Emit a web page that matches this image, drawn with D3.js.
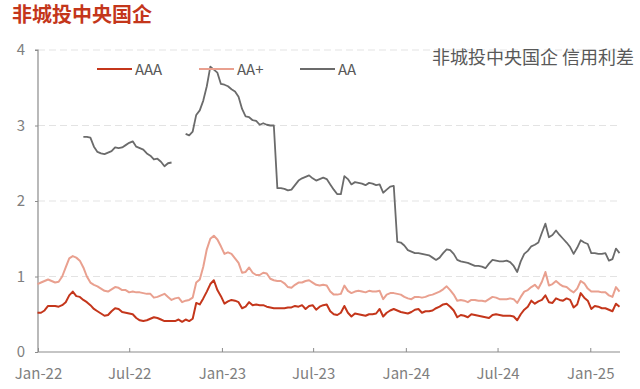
<!DOCTYPE html>
<html>
<head>
<meta charset="utf-8">
<script src="https://cdn.jsdelivr.net/npm/d3@7"></script>
<style>
  body { margin: 0; background: #fff; }
  svg { display: block; font-family: "Noto Sans CJK SC", "Noto Sans", sans-serif; }
</style>
</head>
<body>
<svg id="chart" width="640" height="389"></svg>
<script>
// weekly observations (Fridays), 2021-12-31 .. 2025-02-28
const dates = d3.timeFriday.range(new Date(2021, 11, 31), new Date(2025, 2, 1));

const aaa = [
  0.52, 0.52, 0.55, 0.61, 0.61, 0.61, 0.60, 0.62, 0.66, 0.75, 0.80, 0.74, 0.73, 0.69, 0.66, 0.62, 0.57, 0.54, 0.51, 0.48,
  0.49, 0.54, 0.58, 0.57, 0.53, 0.52, 0.51, 0.50, 0.45, 0.42, 0.41, 0.42, 0.44, 0.46, 0.45, 0.43, 0.41, 0.41, 0.41, 0.41,
  0.43, 0.40, 0.43, 0.41, 0.44, 0.65, 0.63, 0.71, 0.80, 0.90, 0.95, 0.82, 0.74, 0.64, 0.67, 0.69, 0.68, 0.66, 0.58, 0.60,
  0.66, 0.62, 0.63, 0.62, 0.62, 0.60, 0.59, 0.58, 0.58, 0.58, 0.58, 0.59, 0.59, 0.61, 0.60, 0.62, 0.57, 0.61, 0.62, 0.56,
  0.60, 0.62, 0.63, 0.54, 0.50, 0.49, 0.52, 0.61, 0.52, 0.47, 0.51, 0.50, 0.49, 0.48, 0.50, 0.50, 0.51, 0.57, 0.47, 0.52,
  0.55, 0.57, 0.55, 0.53, 0.52, 0.51, 0.53, 0.56, 0.57, 0.52, 0.54, 0.54, 0.55, 0.58, 0.60, 0.63, 0.64, 0.60, 0.55, 0.46,
  0.49, 0.48, 0.46, 0.50, 0.49, 0.48, 0.47, 0.46, 0.45, 0.49, 0.50, 0.49, 0.48, 0.48, 0.48, 0.47, 0.42, 0.50, 0.56, 0.60,
  0.68, 0.64, 0.67, 0.69, 0.75, 0.66, 0.65, 0.71, 0.69, 0.68, 0.71, 0.69, 0.59, 0.63, 0.78, 0.72, 0.68, 0.57, 0.61, 0.60,
  0.58, 0.58, 0.56, 0.54, 0.64, 0.60
];

const aaPlus = [
  0.90, 0.92, 0.94, 0.96, 0.94, 0.92, 0.93, 1.00, 1.12, 1.24, 1.27, 1.25, 1.21, 1.12, 1.00, 0.92, 0.89, 0.87, 0.84, 0.81,
  0.80, 0.83, 0.86, 0.85, 0.82, 0.82, 0.79, 0.80, 0.79, 0.79, 0.78, 0.77, 0.77, 0.72, 0.73, 0.75, 0.77, 0.73, 0.69, 0.71,
  0.72, 0.66, 0.68, 0.69, 0.72, 0.92, 0.96, 1.13, 1.36, 1.50, 1.54, 1.49, 1.40, 1.30, 1.32, 1.30, 1.24, 1.18, 1.05, 1.06,
  1.12, 1.05, 1.02, 1.02, 1.05, 1.04, 0.97, 0.95, 0.94, 0.94, 0.91, 0.86, 0.85, 0.89, 0.92, 0.92, 0.94, 0.95, 0.92, 0.89,
  0.88, 0.89, 0.88, 0.80, 0.76, 0.76, 0.77, 0.88, 0.81, 0.78, 0.80, 0.81, 0.80, 0.79, 0.81, 0.80, 0.80, 0.81, 0.70, 0.76,
  0.78, 0.78, 0.77, 0.76, 0.73, 0.71, 0.70, 0.73, 0.73, 0.72, 0.73, 0.75, 0.76, 0.78, 0.80, 0.83, 0.87, 0.82, 0.76, 0.68,
  0.69, 0.68, 0.66, 0.69, 0.69, 0.68, 0.68, 0.67, 0.70, 0.73, 0.72, 0.70, 0.70, 0.70, 0.71, 0.70, 0.65, 0.73, 0.80, 0.82,
  0.86, 0.89, 0.84, 0.93, 1.06, 0.88, 0.90, 0.94, 0.90, 0.87, 0.86, 0.82, 0.79, 0.84, 0.94, 0.91, 0.84, 0.80, 0.80, 0.80,
  0.79, 0.79, 0.75, 0.73, 0.86, 0.80
];

const aa = [
  null, null, null, null, null, null, null, null, null, null, null, null, null, 2.85, 2.85, 2.84, 2.72, 2.65, 2.63, 2.62,
  2.64, 2.66, 2.71, 2.70, 2.71, 2.74, 2.77, 2.79, 2.72, 2.70, 2.68, 2.63, 2.60, 2.55, 2.56, 2.52, 2.46, 2.50, 2.51, null,
  null, null, 2.89, 2.87, 2.92, 3.14, 3.20, 3.33, 3.52, 3.78, 3.74, 3.70, 3.55, 3.54, 3.52, 3.48, 3.45, 3.38, 3.22, 3.12,
  3.11, 3.07, 3.06, 3.01, 3.03, 3.01, 3.00, 3.00, 2.17, 2.17, 2.16, 2.14, 2.15, 2.21, 2.27, 2.30, 2.32, 2.34, 2.30, 2.27,
  2.29, 2.31, 2.29, 2.22, 2.15, 2.09, 2.09, 2.33, 2.29, 2.22, 2.25, 2.24, 2.23, 2.21, 2.24, 2.23, 2.21, 2.22, 2.11, 2.15,
  2.19, 2.20, 1.46, 1.45, 1.41, 1.35, 1.33, 1.31, 1.31, 1.30, 1.29, 1.28, 1.25, 1.22, 1.25, 1.31, 1.36, 1.35, 1.30, 1.22,
  1.20, 1.19, 1.18, 1.16, 1.14, 1.14, 1.13, 1.11, 1.17, 1.22, 1.21, 1.20, 1.20, 1.21, 1.19, 1.14, 1.06, 1.20, 1.30, 1.34,
  1.40, 1.42, 1.45, 1.58, 1.70, 1.52, 1.55, 1.61, 1.55, 1.50, 1.45, 1.39, 1.30, 1.38, 1.48, 1.45, 1.43, 1.31, 1.31, 1.30,
  1.30, 1.31, 1.21, 1.23, 1.37, 1.31
];

const seriesNames = ['AAA', 'AA+', 'AA'];
const seriesColors = ['#C4361B', '#E9A08F', '#6B6B6B'];
const yTicks = [0, 1, 2, 3, 4];

const svg = d3.select('#chart');
const plot = { left: 38, right: 620, top: 50, bottom: 352 };

const x = d3.scaleTime()
  .domain([new Date(2022, 0, 1), new Date(2025, 2, 1)])
  .range([plot.left, plot.right]);
const y = d3.scaleLinear().domain([0, 4]).range([plot.bottom, plot.top]);

// title
svg.append('text')
  .attr('x', 12).attr('y', 22)
  .attr('fill', '#C4361B')
  .attr('font-size', 20).attr('font-weight', 'bold')
  .text('非城投中央国企');

// gridlines
svg.append('g')
  .selectAll('line')
  .data(yTicks.filter((t) => t > 0))
  .enter().append('line')
  .attr('x1', plot.left).attr('x2', plot.right)
  .attr('y1', (d) => y(d)).attr('y2', (d) => y(d))
  .attr('stroke', '#E3E3E3')
  .attr('stroke-dasharray', '7 4');

// axes
const yAxis = svg.append('g')
  .attr('transform', `translate(${plot.left},0)`)
  .call(d3.axisLeft(y).tickValues(yTicks).tickSize(3).tickPadding(10).tickFormat(d3.format('d')));
const xAxis = svg.append('g')
  .attr('transform', `translate(0,${plot.bottom})`)
  .call(d3.axisBottom(x).ticks(d3.timeMonth.every(6)).tickSize(-4).tickPadding(10).tickFormat(d3.timeFormat('%b-%y')));

for (const ax of [xAxis, yAxis]) {
  ax.select('.domain').attr('stroke', '#8C8C8C').attr('stroke-width', 1.2);
  ax.selectAll('.tick line').attr('stroke', '#8C8C8C');
  ax.selectAll('.tick text')
    .attr('fill', '#7F7F7F')
    .attr('font-size', 15)
    .attr('font-family', '"Noto Sans CJK SC", "Noto Sans", sans-serif');
}
xAxis.select('.domain').attr('d', `M${plot.left},0H${plot.right}`);
yAxis.select('.domain').attr('d', `M-3,${plot.top}H0V${plot.bottom}`);
xAxis.selectAll('.tick text').attr('dy', '1.1em');

// lines
const allSeries = [aaa, aaPlus, aa];
const line = d3.line()
  .defined((d) => d[1] != null)
  .x((d) => x(d[0]))
  .y((d) => y(d[1]));

allSeries.forEach((vals, ix) => {
  svg.append('path')
    .datum(dates.map((dt, i) => [dt, vals[i]]))
    .attr('fill', 'none')
    .attr('stroke', seriesColors[ix])
    .attr('stroke-width', ix === 2 ? 1.8 : 2)
    .attr('stroke-linejoin', 'round')
    .attr('d', line);
});

// legend
const legendX = [97, 199, 300];
const legend = svg.append('g');
seriesNames.forEach((name, ix) => {
  legend.append('line')
    .attr('x1', legendX[ix]).attr('x2', legendX[ix] + 35)
    .attr('y1', 69).attr('y2', 69)
    .attr('stroke', seriesColors[ix]).attr('stroke-width', 2);
  legend.append('text')
    .attr('x', legendX[ix] + 38).attr('y', 75)
    .attr('fill', '#595959').attr('font-size', 15)
    .text(name);
});

svg.append('text')
  .attr('x', 634).attr('y', 64)
  .attr('text-anchor', 'end')
  .attr('fill', '#595959').attr('font-size', 18)
  .text('非城投中央国企 信用利差');
</script>
</body>
</html>
